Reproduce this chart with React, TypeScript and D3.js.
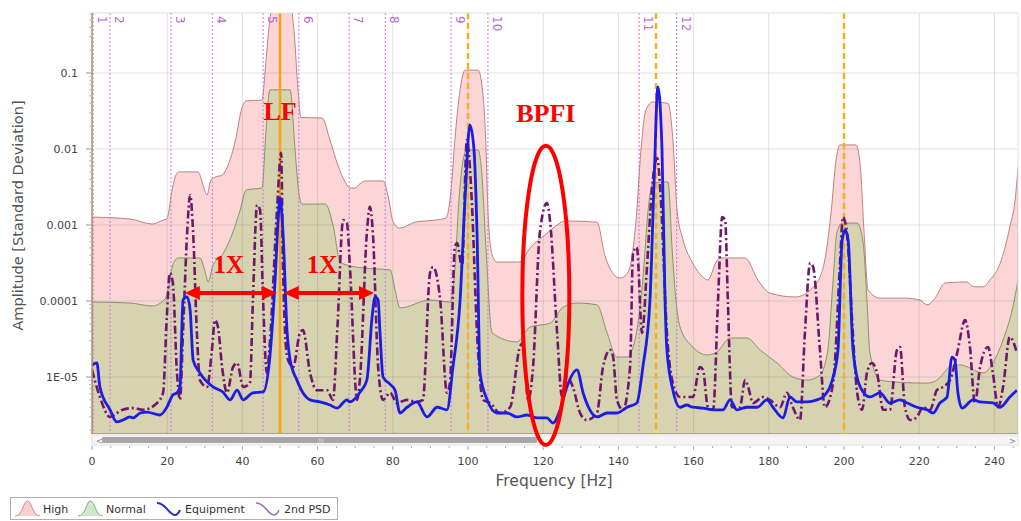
import React from 'react';
import * as d3 from 'd3';

// ---- data (frequency in Hz, amplitude in standard deviation) ----
const HIGH: [number, number][] = [
  [0, 1.27e-3], [10.1, 1.2e-3], [16, 1.03e-3], [18.9, 1.16e-3], [19.9, 1.2e-3], [21.3, 2.9e-3],
  [22.6, 4.8e-3], [23.4, 5.0e-3], [28.2, 5.0e-3], [29.5, 3.4e-3], [30.6, 2.48e-3], [31.6, 3.9e-3],
  [33, 4.3e-3], [34.6, 4.55e-3], [36.7, 7.2e-3], [38.3, 0.014], [39.6, 0.031], [41, 0.043],
  [45.2, 0.044], [46.3, 0.15], [47.3, 0.5], [48.4, 0.8], [52.7, 0.8], [53.7, 0.37], [54.8, 0.06],
  [55.6, 0.026], [61.2, 0.0256], [63.3, 0.013], [65.4, 6.1e-3], [67.3, 3.7e-3], [68.6, 3.07e-3],
  [69.9, 3.07e-3], [71.3, 3.5e-3], [72.9, 3.8e-3], [77.4, 3.8e-3], [78.7, 2.48e-3], [80.1, 1.09e-3],
  [81.9, 9.1e-4], [85.9, 1.09e-3], [91.2, 1.16e-3], [94.1, 1.23e-3], [95.5, 2.9e-3], [96.5, 0.013],
  [97.9, 0.06], [99.2, 0.109], [102.7, 0.109], [104, 0.051], [104.8, 0.0097], [105.3, 1.57e-3],
  [106.4, 4.1e-4], [107.7, 3.26e-4], [113.8, 3.26e-4], [116.5, 5.0e-4], [120.5, 7.4e-4],
  [123.7, 1.0e-3], [125.8, 1.13e-3], [134.3, 1.09e-3], [136.4, 4.0e-4], [138.3, 2.41e-4],
  [140.4, 2.0e-4], [142.6, 2.41e-4], [144.7, 1.16e-3], [146, 0.0097], [147.3, 0.0326],
  [149.2, 0.0415], [153.2, 0.04], [154.5, 0.013], [155.6, 1.57e-3], [157.2, 6.35e-4],
  [159.6, 3.26e-4], [161.7, 2.27e-4], [163.8, 1.89e-4], [166, 3.26e-4], [167, 3.68e-4],
  [173.7, 3.68e-4], [177.1, 1.89e-4], [180.3, 1.27e-4], [187, 1.13e-4], [192.3, 1.63e-4],
  [194.9, 3.47e-4], [196.5, 1.35e-3], [197.9, 7.2e-3], [198.9, 0.0113], [203.2, 0.0113],
  [204.3, 6.2e-3], [205.3, 8.6e-4], [206.4, 1.4e-4], [209.6, 1.09e-4], [216.2, 1.09e-4],
  [220.2, 1.03e-4], [222.1, 8.9e-5], [224.2, 1.09e-4], [226.9, 1.73e-4], [232.7, 1.78e-4],
  [234.3, 1.55e-4], [237, 1.53e-4], [238.8, 1.89e-4], [241.5, 3.1e-4], [244.1, 9.4e-4],
  [245.5, 2.13e-3], [246.3, 5.8e-3],
];

const NORMAL: [number, number][] = [
  [0, 9.7e-5], [10.1, 9.4e-5], [16, 8.6e-5], [19.4, 1.06e-4], [20.2, 1.4e-4], [21.5, 2.98e-4],
  [22.9, 3.68e-4], [28.7, 3.68e-4], [30.1, 2.41e-4], [30.9, 1.78e-4], [32.2, 2.98e-4], [34.6, 4.0e-4],
  [37.2, 7.4e-4], [39.4, 1.57e-3], [41, 2.89e-3], [45.2, 3.07e-3], [46.3, 0.0178], [47.3, 0.06],
  [52.7, 0.06], [54, 9.7e-3], [55.1, 2.48e-3], [55.9, 1.88e-3], [62, 1.89e-3], [64.1, 1.0e-3],
  [66, 3.26e-4], [68.6, 2.9e-4], [72.1, 2.72e-4], [79.3, 2.56e-4], [80.6, 1.4e-4], [81.9, 8.1e-5],
  [89.9, 1.03e-4], [95.2, 9.7e-5], [96.5, 2.56e-4], [97.6, 2.13e-3], [98.7, 7.2e-3], [99.7, 9.7e-3],
  [102.7, 9.7e-3], [103.7, 4.55e-3], [104.8, 4.7e-4], [106.4, 3.8e-5], [113, 2.9e-5], [116.5, 4.55e-5],
  [121.8, 5.1e-5], [125.3, 8.3e-5], [129, 9.4e-5], [134.3, 8.9e-5], [137, 3.8e-5], [139.6, 1.83e-5],
  [142.3, 1.83e-5], [144.4, 3.07e-5], [146.5, 1.89e-4], [147.9, 1.57e-3], [149.2, 3.6e-3],
  [153.2, 3.68e-3], [154.3, 4.7e-4], [155.3, 1.03e-4], [156.4, 4.55e-5], [159.8, 2.48e-5],
  [163.6, 1.95e-5], [166.2, 2.13e-5], [169.7, 3.26e-5], [174.2, 3.26e-5], [177.7, 2.27e-5],
  [182.2, 1.53e-5], [186.4, 1.0e-5], [190.2, 9.1e-6], [193.6, 1.06e-5], [195.7, 2.27e-5],
  [197.1, 1.89e-4], [198.1, 7.85e-4], [199.5, 1.06e-3], [203.5, 1.06e-3], [205.1, 5.8e-4],
  [206.1, 1.03e-4], [206.9, 2.07e-5], [209.6, 9.1e-6], [214.9, 8.5e-6], [222.1, 8.3e-6],
  [224.7, 9.1e-6], [228.2, 1.35e-5], [230.9, 1.44e-5], [237, 1.13e-5], [239.6, 1.53e-5],
  [242.3, 3.07e-5], [244.9, 8.3e-5], [246.3, 1.89e-4],
];

const EQUIPMENT: [number, number][] = [
  [0, 1.44e-5], [1.3, 1.53e-5], [2.1, 7.4e-6], [4.8, 3.7e-6], [6.6, 2.56e-6], [8.2, 2.72e-6],
  [10.1, 2.98e-6], [10.9, 2.89e-6], [12.8, 3.36e-6], [14.6, 3.46e-6], [18.1, 3.16e-6], [19.9, 4.0e-6],
  [21.5, 5.8e-6], [22.6, 6.2e-6], [23.4, 7.4e-6], [24.2, 1.03e-4], [25.3, 1.13e-4], [26.1, 7.6e-5],
  [26.9, 1.67e-5], [28.7, 1.13e-5], [32.2, 7.4e-6], [34.8, 6.35e-6], [36.7, 5.0e-6], [38.6, 6.7e-6],
  [40.2, 5.0e-6], [42.8, 6.2e-6], [45.5, 6.35e-6], [47.3, 1.83e-5], [48.7, 1.89e-4], [49.5, 1.16e-3],
  [50, 2.3e-3], [50.8, 7.85e-4], [51.9, 3.8e-5], [52.7, 1.67e-5], [54.5, 9.1e-6], [56.1, 6.2e-6],
  [58, 5.0e-6], [60.6, 4.7e-6], [63.3, 4.28e-6], [65.2, 3.9e-6], [67.8, 5.0e-6], [68.6, 4.7e-6],
  [71.3, 6.35e-6], [73.1, 9.1e-6], [74.5, 6.2e-5], [75.3, 1.13e-4], [76.1, 1.03e-4], [76.6, 3.8e-5],
  [77.4, 1.0e-5], [79.3, 8.0e-6], [80.6, 6.7e-6], [81.9, 3.36e-6], [83.8, 4.0e-6], [86.4, 4.7e-6],
  [89.1, 2.98e-6], [91.8, 4.0e-6], [94.4, 3.7e-6], [96, 1.35e-5], [97.9, 1.03e-4], [99.2, 2.13e-3],
  [100.5, 0.0207], [101.6, 9.7e-3], [102.4, 7.85e-4], [103.2, 1.13e-5], [105.1, 5.0e-6],
  [107.7, 3.36e-6], [110.4, 3.36e-6], [113, 2.98e-6], [115.7, 3.16e-6], [118.4, 2.89e-6],
  [121, 2.89e-6], [122.6, 2.48e-6], [124.5, 3.7e-6], [126.3, 7.4e-6], [129, 1.24e-5], [130.6, 6.2e-6],
  [132.4, 3.7e-6], [134.3, 2.98e-6], [137, 3.36e-6], [139.6, 3.36e-6], [142.3, 4.0e-6],
  [144.9, 4.55e-6], [146.5, 1.35e-5], [148.4, 1.03e-4], [149.5, 3.9e-3], [150.5, 0.0655],
  [151.6, 9.7e-3], [152.4, 1.03e-4], [152.9, 2.27e-5], [154.5, 6.7e-6], [156.4, 4.0e-6],
  [158.2, 4.28e-6], [159.8, 4.0e-6], [162.5, 3.9e-6], [165.2, 3.7e-6], [167.8, 3.7e-6],
  [169.7, 5.0e-6], [171.5, 3.7e-6], [174.2, 4.0e-6], [176.9, 4.0e-6], [179.5, 5.0e-6],
  [181.1, 4.0e-6], [183.8, 2.89e-6], [185.6, 5.46e-6], [187.5, 4.7e-6], [190.2, 4.7e-6],
  [192.8, 5.0e-6], [194.4, 5.46e-6], [197.1, 1.0e-5], [198.4, 2.27e-5], [199.5, 6.35e-4],
  [200.3, 8.6e-4], [201.1, 6.35e-4], [202.4, 2.27e-5], [204.3, 7.4e-6], [206.9, 5.46e-6],
  [209.6, 6.2e-6], [212.2, 4.55e-6], [214.9, 5.0e-6], [216.8, 4.55e-6], [219.4, 4.0e-6],
  [222.1, 3.7e-6], [223.7, 3.36e-6], [225.5, 4.55e-6], [227.4, 5.46e-6], [228.7, 1.83e-5],
  [229.5, 1.67e-5], [230.3, 6.2e-6], [231.4, 3.9e-6], [234.3, 5.0e-6], [236.2, 4.7e-6],
  [239.6, 4.55e-6], [241.5, 4.0e-6], [244.1, 5.46e-6], [246, 6.7e-6],
];

const PSD2: [number, number][] = [
  [0, 1.24e-5], [2.1, 5.46e-6], [4.8, 2.98e-6], [6.6, 3.36e-6], [8.2, 3.7e-6], [10.9, 3.9e-6],
  [13.6, 3.7e-6], [17.3, 4.55e-6], [18.9, 6.2e-6], [19.9, 6.2e-5], [20.7, 2.34e-4], [21.5, 1.73e-4],
  [22.6, 1.13e-5], [23.4, 5.0e-6], [24.2, 3.8e-5], [25.3, 7.85e-4], [26.1, 2.48e-3], [26.9, 7.85e-4],
  [27.9, 3.8e-5], [28.7, 9.1e-6], [30.6, 7.4e-6], [31.9, 2.27e-5], [32.7, 5.6e-5], [33.5, 4.55e-5],
  [34.6, 1.35e-5], [35.9, 6.2e-6], [37.5, 1.35e-5], [38.6, 1.53e-5], [40.2, 7.4e-6], [42, 8.3e-6],
  [42.8, 1.03e-4], [43.9, 1.83e-3], [44.7, 1.57e-3], [45.5, 1.03e-4], [46.5, 1.13e-5], [47.3, 2.8e-5],
  [49.2, 1.57e-3], [50.3, 8.9e-3], [50.8, 2.8e-4], [51.9, 1.83e-5], [53.5, 1.35e-5], [55.3, 3.8e-5],
  [56.1, 4.15e-5], [58, 1.13e-5], [59.8, 6.7e-6], [62.5, 6.7e-6], [64.1, 5.0e-6], [65.2, 3.8e-5],
  [66.8, 1.16e-3], [67.8, 1.06e-3], [68.6, 2.8e-4], [70.5, 5.0e-6], [71.3, 1.0e-5], [73.1, 7.85e-4],
  [73.9, 1.73e-3], [74.7, 7.85e-4], [76.1, 1.35e-5], [77.4, 5.0e-6], [79.3, 6.2e-6], [81.1, 4.55e-6],
  [83.8, 5.0e-6], [86.4, 4.7e-6], [88, 5.0e-6], [89.9, 2.34e-4], [90.7, 2.8e-4], [92.6, 1.03e-4],
  [94.4, 6.2e-6], [95.2, 8.3e-6], [96.5, 5.1e-4], [97.1, 5.8e-4], [98.4, 2.8e-4], [99.7, 0.0131],
  [101, 2.13e-3], [102.4, 3.8e-5], [104, 5.0e-6], [105.9, 4.55e-6], [108.5, 3.36e-6], [111.2, 4.0e-6],
  [113.8, 2.48e-5], [114.6, 2.8e-5], [116, 5.0e-6], [117.3, 1.35e-5], [119.1, 7.85e-4], [121, 1.95e-3],
  [121.8, 1.16e-3], [123.7, 3.8e-5], [125, 5.46e-6], [126.3, 1.0e-5], [127.9, 7.4e-6], [129.8, 3.36e-6],
  [131.6, 2.72e-6], [134.3, 3.36e-6], [135.9, 1.35e-5], [137.8, 2.27e-5], [138.6, 1.83e-5],
  [139.6, 5.0e-6], [141.2, 3.7e-6], [143.1, 1.35e-5], [143.9, 4.28e-4], [144.9, 5.1e-4], [146.3, 3.8e-5],
  [147.6, 2.8e-4], [148.9, 2.89e-3], [150.3, 7.6e-3], [151.3, 2.13e-3], [152.9, 3.8e-5], [154.5, 8.3e-6],
  [156.4, 5.46e-6], [159.8, 5.46e-6], [161.7, 1.35e-5], [162.5, 1.24e-5], [163.8, 4.0e-6],
  [165.2, 3.7e-6], [166.5, 1.03e-4], [167.6, 1.27e-3], [168.4, 1.16e-3], [169.1, 1.03e-4],
  [170.2, 4.0e-6], [172.3, 4.0e-6], [173.7, 9.1e-6], [174.5, 7.4e-6], [175.8, 4.55e-6], [178.5, 5.46e-6],
  [180.3, 5.0e-6], [183, 4.0e-6], [184.8, 6.2e-6], [186.4, 4.0e-6], [188.3, 2.72e-6], [189.6, 3.8e-5],
  [191, 3.16e-4], [191.8, 2.8e-4], [193.6, 2.27e-5], [194.9, 4.0e-6], [197.1, 8.3e-6], [198.9, 2.8e-4],
  [199.7, 1.27e-3], [200.8, 7.85e-4], [202.1, 6.2e-5], [203.5, 6.2e-6], [204.8, 3.7e-6],
  [206.1, 1.13e-5], [207.4, 1.53e-5], [208.8, 1.13e-5], [210.4, 3.7e-6], [212.2, 3.7e-6],
  [214.1, 2.27e-5], [214.9, 2.48e-5], [216.2, 4.0e-6], [217.6, 2.72e-6], [219.4, 2.98e-6], [221, 4.0e-6],
  [222.9, 3.7e-6], [224.7, 6.7e-6], [226.3, 7.4e-6], [228.2, 9.1e-6], [230.1, 2.07e-5], [232.2, 5.6e-5],
  [233.5, 2.48e-5], [234.8, 4.55e-6], [236.2, 1.35e-5], [238.3, 2.48e-5], [239.6, 1.13e-5],
  [241, 4.0e-6], [242.3, 7.4e-6], [244.1, 3.36e-5], [246, 2.07e-5],
];

const X_TICKS = [0, 20, 40, 60, 80, 100, 120, 140, 160, 180, 200, 220, 240];
const Y_TICKS = [1e-5, 1e-4, 1e-3, 1e-2, 1e-1];
const Y_TICK_LABELS = ['1E-05', '0.0001', '0.001', '0.01', '0.1'];
const MARKER_FREQS = [0.3, 4.8, 21, 32, 45.5, 55, 68.4, 78, 95.5, 105.3, 145.5, 155.5];
const MARKER_LABELS = ['1', '2', '3', '4', '5', '6', '7', '8', '9', '10', '11', '12'];
const LF_FREQ = 50;
const HARMONIC_FREQS = [100, 150, 200];
const LEGEND_ITEMS = ['High', 'Normal', 'Equipment', '2nd PSD'];

const FONT = '"DejaVu Sans", Verdana, sans-serif';
const SERIF = '"Liberation Serif", "Times New Roman", serif';

export default function App() {
  const W = 1021, H = 521;
  const L = 92, R = 1018, T = 13, B = 434;
  const x = d3.scaleLinear().domain([0, 240]).range([92, 92 + 240 * 3.76]);
  const y = d3.scaleLog().domain([1e-5, 0.1]).range([377, 73]);

  const area = d3.area<[number, number]>()
    .x(d => x(d[0])).y0(B).y1(d => y(d[1])).curve(d3.curveMonotoneX);
  const line = d3.line<[number, number]>()
    .x(d => x(d[0])).y(d => y(d[1])).curve(d3.curveMonotoneX);

  const minorX = d3.range(0, 247, 5);
  const minorY: number[] = [];
  for (let e = -6; e <= 0; e++) for (let m = 2; m <= 9; m++) {
    const v = m * Math.pow(10, e);
    const py = y(v);
    if (py > T && py < B) minorY.push(v);
  }

  // annotation anchors in data space
  const arrowV = 1.27e-4;
  const arrows: [number, number][] = [[24.7, 49.2], [51, 75]];
  const ellCx = x(120.7), ellTop = y(0.011), ellBot = y(1.27e-6);

  const arrowHead = (xt: number, yt: number, dir: number) =>
    `M${xt},${yt} L${xt - dir * 15},${yt - 7} L${xt - dir * 15},${yt + 7} Z`;

  const legendX = [15, 78, 157, 256];

  return (
    <svg width={W} height={H} style={{ position: 'absolute', left: 0, top: 0, background: '#fff' }}
      xmlns="http://www.w3.org/2000/svg">
      <defs>
        <clipPath id="plot"><rect x={L} y={T} width={R - L} height={B - T} /></clipPath>
      </defs>
      <rect x={0} y={0} width={W} height={H} fill="#fff" />

      <g clipPath="url(#plot)">
        <path d={area(HIGH) || ''} fill="#fcd6d6" stroke="#c08080" strokeWidth={1} />
        <path d={area(NORMAL) || ''} fill="rgba(168,206,128,0.44)" stroke="#86946a" strokeWidth={1} />
        {/* grid */}
        {Y_TICKS.map(v => (
          <line key={'gy' + v} x1={L} x2={R} y1={y(v)} y2={y(v)} stroke="rgba(120,120,120,0.22)" strokeWidth={1} />
        ))}
        {X_TICKS.map(v => (
          <line key={'gx' + v} x1={x(v)} x2={x(v)} y1={T} y2={B} stroke="rgba(120,120,120,0.22)" strokeWidth={1} />
        ))}
        {/* marker lines */}
        {MARKER_FREQS.map((f, i) => (
          <line key={'m' + i} x1={x(f)} x2={x(f)} y1={T} y2={B} stroke="#c57ae0" strokeWidth={1} strokeDasharray="2,2" />
        ))}
        <line x1={x(LF_FREQ)} x2={x(LF_FREQ)} y1={T} y2={B} stroke="#f5a512" strokeWidth={2.5} />
        {HARMONIC_FREQS.map(f => (
          <line key={'h' + f} x1={x(f)} x2={x(f)} y1={T} y2={B} stroke="#f5b020" strokeWidth={2.5} strokeDasharray="6,4" />
        ))}
        <path d={line(PSD2) || ''} fill="none" stroke="#6e176c" strokeWidth={2.6} strokeDasharray="8,3,2,3" />
        <path d={line(EQUIPMENT) || ''} fill="none" stroke="#1c1ce6" strokeWidth={2.8} />
      </g>

      {/* frame */}
      <line x1={L} x2={R} y1={T} y2={T} stroke="#dcdcdc" />
      <line x1={R} x2={R} y1={T} y2={B} stroke="#e4e4e4" />
      <line x1={L} x2={L} y1={T} y2={B} stroke="#b8956a" strokeWidth={1.6} />

      {/* marker labels */}
      {MARKER_FREQS.map((f, i) => (
        <text key={'ml' + i} transform={`translate(${x(f) + 5},16) rotate(90)`} fontFamily={FONT} fontSize={12}
          fill="#b466d8">{MARKER_LABELS[i]}</text>
      ))}

      {/* y axis */}
      {Y_TICKS.map((v, i) => (
        <g key={'yt' + v}>
          <line x1={L - 6} x2={L} y1={y(v)} y2={y(v)} stroke="#999" />
          <text x={78} y={y(v) + 4} textAnchor="end" fontFamily={FONT} fontSize={11} fill="#444">{Y_TICK_LABELS[i]}</text>
        </g>
      ))}
      {minorY.map(v => (
        <line key={'my' + v} x1={L - 3} x2={L} y1={y(v)} y2={y(v)} stroke="#bbb" />
      ))}
      <text transform={`translate(23,${(T + B) / 2 - 8}) rotate(-90)`} textAnchor="middle" fontFamily={FONT}
        fontSize={14.5} fill="#555">Amplitude [Standard Deviation]</text>

      {/* scrollbar */}
      <rect x={L} y={435} width={R - L} height={10} fill="#f5f5f5" stroke="#e0e0e0" />
      <rect x={102} y={437} width={435} height={6} fill="#a6a6a6" rx={1} />
      <text x={321} y={443} textAnchor="middle" fontFamily={FONT} fontSize={6} fill="#ddd">III</text>
      <text x={96} y={443.5} fontFamily={FONT} fontSize={8} fill="#888">&lt;</text>
      <text x={1009} y={443.5} fontFamily={FONT} fontSize={8} fill="#888">&gt;</text>

      {/* x axis */}
      {minorX.map(v => (
        <line key={'mx' + v} x1={x(v)} x2={x(v)} y1={446} y2={v % 20 === 0 ? 450 : 448} stroke="#aaa" />
      ))}
      {X_TICKS.map(v => (
        <text key={'xt' + v} x={x(v)} y={465} textAnchor="middle" fontFamily={FONT} fontSize={11} fill="#444">{v}</text>
      ))}
      <text x={554} y={486} textAnchor="middle" fontFamily={FONT} fontSize={15.5} fill="#555">Frequency [Hz]</text>

      {/* annotations */}
      <text x={x(50)} y={120} textAnchor="middle" fontFamily={SERIF} fontWeight="bold" fontSize={26} fill="#ff0000">LF</text>
      <text x={ellCx} y={122} textAnchor="middle" fontFamily={SERIF} fontWeight="bold" fontSize={26} fill="#ff0000">BPFI</text>
      <text x={x(36.4)} y={273} textAnchor="middle" fontFamily={SERIF} fontWeight="bold" fontSize={25} fill="#ff0000">1X</text>
      <text x={x(61.2)} y={273} textAnchor="middle" fontFamily={SERIF} fontWeight="bold" fontSize={25} fill="#ff0000">1X</text>
      {arrows.map(([a, b], i) => (
        <g key={'ar' + i}>
          <line x1={x(a) + 10} x2={x(b) - 10} y1={y(arrowV)} y2={y(arrowV)} stroke="#ff0000" strokeWidth={4} />
          <path d={arrowHead(x(a), y(arrowV), -1)} fill="#ff0000" />
          <path d={arrowHead(x(b), y(arrowV), 1)} fill="#ff0000" />
        </g>
      ))}
      <ellipse cx={ellCx} cy={(ellTop + ellBot) / 2} rx={23.5} ry={(ellBot - ellTop) / 2} fill="none" stroke="#ff0000" strokeWidth={4} />

      {/* legend */}
      <rect x={10.5} y={497.5} width={327} height={22} fill="#fff" stroke="#b0b0b0" />
      {LEGEND_ITEMS.map((name, i) => {
        const lx = legendX[i];
        const icon = i < 2
          ? <path d={`M${lx},516 C${lx + 8},516 ${lx + 8},501 ${lx + 12.5},501 C${lx + 17},501 ${lx + 17},516 ${lx + 25},516`}
              fill={i === 0 ? '#fcd0d0' : '#cfe8c8'} stroke={i === 0 ? '#e08080' : '#80b080'} strokeWidth={1} />
          : <path d={`M${lx},503 C${lx + 8},502 ${lx + 12},515 ${lx + 18},515 C${lx + 21},515 ${lx + 22},512 ${lx + 23},510`}
              fill="none" stroke={i === 2 ? '#2a2ad0' : '#a060b0'} strokeWidth={i === 2 ? 2 : 1.5} />;
        return (
          <g key={name}>
            {icon}
            <text x={lx + 28} y={513} fontFamily={FONT} fontSize={11} fill="#333">{name}</text>
          </g>
        );
      })}
    </svg>
  );
}
